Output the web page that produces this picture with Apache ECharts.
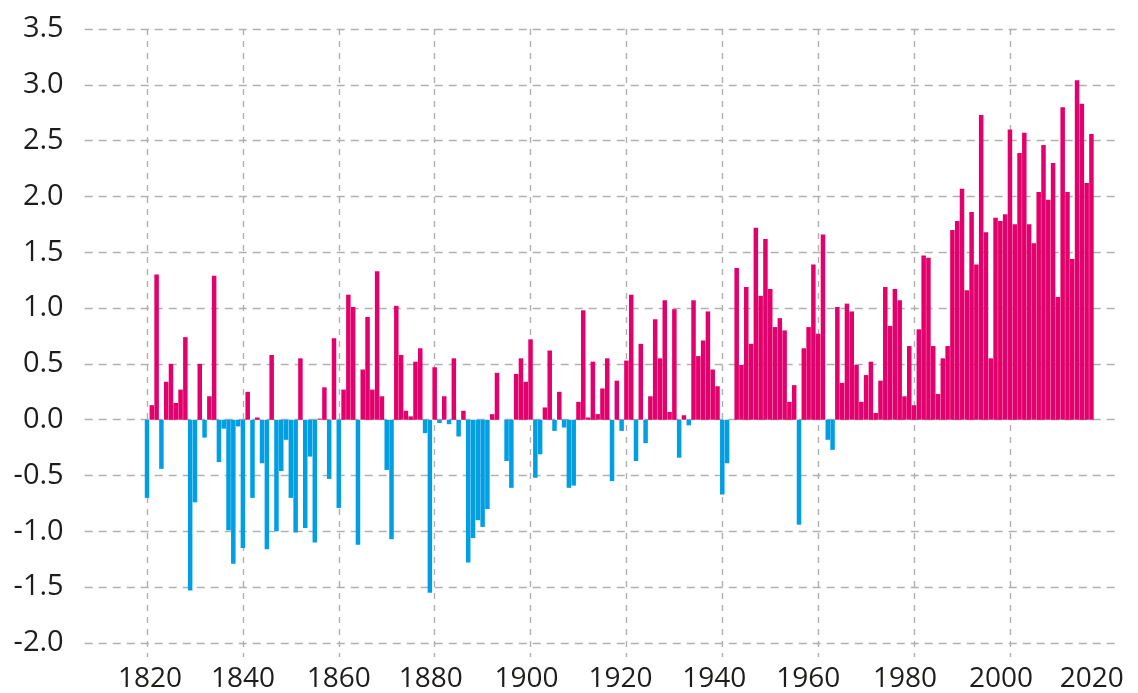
<!DOCTYPE html>
<html>
<head>
<meta charset="utf-8">
<script src="https://cdn.jsdelivr.net/npm/echarts@6/dist/echarts.min.js"></script>
<style>
html,body{margin:0;padding:0;background:#fff;}
#chart{width:1138px;height:693px;}
</style>
</head>
<body>
<div id="chart"></div>
<script>
// Data
const firstYear = 1820;
const anomalies = [
  -0.70, 0.13, 1.30, -0.44, 0.34, 0.50, 0.15, 0.27, 0.74, -1.53,   // 1820-1829
  -0.74, 0.50, -0.16, 0.21, 1.29, -0.38, -0.08, -0.99, -1.29, -0.06, // 1830-1839
  -1.15, 0.25, -0.70, 0.02, -0.39, -1.16, 0.58, -1.00, -0.46, -0.18, // 1840-1849
  -0.70, -1.01, 0.55, -0.97, -0.33, -1.10, 0.01, 0.29, -0.53, 0.73,  // 1850-1859
  -0.79, 0.27, 1.12, 1.01, -1.12, 0.45, 0.92, 0.27, 1.33, 0.21,      // 1860-1869
  -0.45, -1.07, 1.02, 0.58, 0.08, 0.03, 0.52, 0.64, -0.12, -1.55,    // 1870-1879
  0.47, -0.03, 0.21, -0.04, 0.55, -0.15, 0.08, -1.28, -1.06, -0.90,  // 1880-1889
  -0.96, -0.80, 0.05, 0.42, 0.00, -0.37, -0.61, 0.41, 0.55, 0.34,    // 1890-1899
  0.72, -0.52, -0.31, 0.11, 0.62, -0.10, 0.25, -0.07, -0.61, -0.59,  // 1900-1909
  0.16, 0.98, 0.02, 0.52, 0.05, 0.28, 0.55, -0.55, 0.35, -0.10,      // 1910-1919
  0.53, 1.12, -0.37, 0.68, -0.21, 0.21, 0.90, 0.55, 1.07, 0.07,      // 1920-1929
  0.99, -0.34, 0.04, -0.05, 1.07, 0.57, 0.71, 0.97, 0.45, 0.30,      // 1930-1939
  -0.67, -0.39, 0.00, 1.36, 0.49, 1.19, 0.68, 1.72, 1.11, 1.62,      // 1940-1949
  1.17, 0.83, 0.91, 0.80, 0.16, 0.31, -0.94, 0.64, 0.83, 1.39,       // 1950-1959
  0.77, 1.66, -0.18, -0.27, 1.01, 0.33, 1.04, 0.97, 0.49, 0.16,      // 1960-1969
  0.40, 0.52, 0.06, 0.35, 1.19, 0.84, 1.17, 1.07, 0.21, 0.66,        // 1970-1979
  0.13, 0.81, 1.47, 1.45, 0.66, 0.23, 0.55, 0.66, 1.70, 1.78,        // 1980-1989
  2.07, 1.16, 1.86, 1.39, 2.73, 1.68, 0.55, 1.81, 1.78, 1.84,        // 1990-1999
  2.60, 1.75, 2.39, 2.57, 1.75, 1.58, 2.04, 2.46, 1.97, 2.30,        // 2000-2009
  1.10, 2.80, 2.04, 1.44, 3.04, 2.83, 2.12, 2.56                     // 2010-2017
];
const axisFirstYear = 1807;
const axisLastYear = 2023;
const tickLabelYears = [1820, 1840, 1860, 1880, 1900, 1920, 1940, 1960, 1980, 2000, 2020];
const gridLineYears = [1820, 1840, 1860, 1880, 1900, 1920, 1940, 1960, 1980, 2000];

// styling: horizontal nudge (px) of each year label, as placed in the original artwork
const labelNudge = [3, 0, 0, -4, -4, -6, -8, -10, -9, -9, -14];

const categories = [];
for (let y = axisFirstYear; y <= axisLastYear; y++) categories.push(String(y));
const barData = categories.map(c => {
  const i = Number(c) - firstYear;
  return (i >= 0 && i < anomalies.length) ? anomalies[i] : null;
});

const PINK = '#E4006C';
const BLUE = '#009FE3';
const TEXT = '#1d1d1b';
const GRIDC = '#b0b0b0';
const FONT = '"Open Sans", "Noto Sans", sans-serif';

const rich = {};
labelNudge.forEach((d, k) => {
  rich['s' + k] = {
    color: TEXT, fontSize: 28, fontFamily: FONT,
    padding: [0, d < 0 ? -2 * d : 0, 0, d > 0 ? 2 * d : 0]
  };
});

const chart = echarts.init(document.getElementById('chart'), null, {renderer: 'canvas'});
chart.setOption({
  animation: false,
  backgroundColor: '#ffffff',
  grid: [
    {left: 84.7, right: 17.8, top: 29, bottom: 50},
    {left: 84.7, right: 17.8, top: 29, bottom: 36}
  ],
  xAxis: [
    {
      type: 'category', gridIndex: 0, data: categories, boundaryGap: false,
      show: false
    },
    {
      type: 'category', gridIndex: 1, data: categories, boundaryGap: false,
      axisLine: {show: false}, axisTick: {show: false},
      axisLabel: {
        interval: (i, v) => tickLabelYears.indexOf(Number(v)) >= 0,
        formatter: v => {
          const k = tickLabelYears.indexOf(Number(v));
          return k >= 0 ? '{s' + k + '|' + v + '}' : v;
        },
        rich: rich,
        color: TEXT, fontSize: 28, fontFamily: FONT, margin: 8
      },
      splitLine: {
        show: true,
        interval: (i, v) => gridLineYears.indexOf(Number(v)) >= 0,
        lineStyle: {color: GRIDC, type: [6, 6], width: 1.4}
      }
    }
  ],
  yAxis: [
    {
      type: 'value', gridIndex: 0, min: -2, max: 3.5, interval: 0.5,
      axisLine: {show: false}, axisTick: {show: false},
      axisLabel: {
        formatter: v => v.toFixed(1),
        color: TEXT, fontSize: 29, fontFamily: FONT, margin: 21
      },
      splitLine: {show: true, lineStyle: {color: GRIDC, type: [8, 6], width: 1.4}}
    },
    {
      type: 'value', gridIndex: 1, min: 0, max: 1, show: false,
      splitLine: {show: false}
    }
  ],
  series: [{
    type: 'bar',
    xAxisIndex: 0, yAxisIndex: 0,
    data: barData,
    barCategoryGap: '6%',
    itemStyle: {
      color: p => (p.value >= 0 ? PINK : BLUE)
    },
    z: 5
  }]
});
</script>
</body>
</html>
